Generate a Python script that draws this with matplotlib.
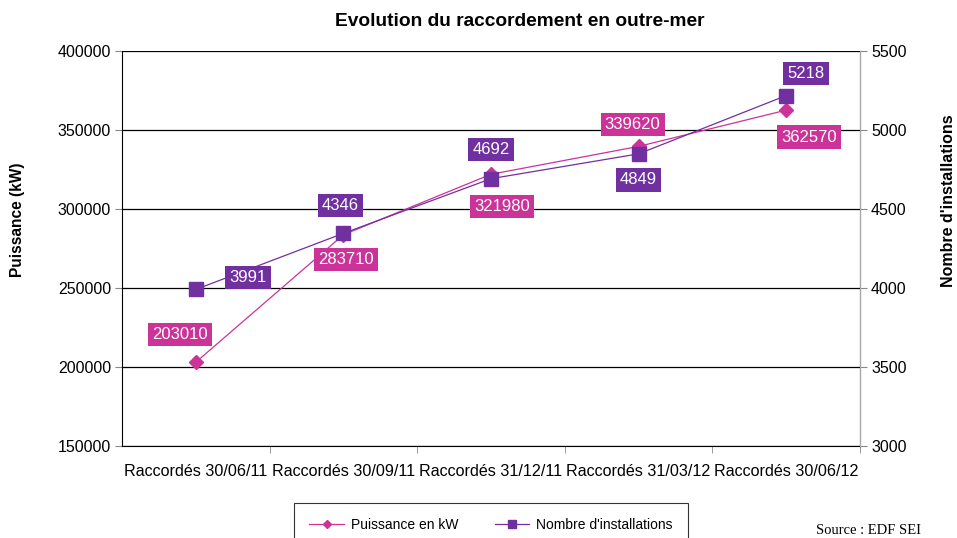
import matplotlib
matplotlib.use("Agg")
import matplotlib.pyplot as plt
from matplotlib.lines import Line2D
import numpy as np

categories = ["Raccordés 30/06/11", "Raccordés 30/09/11", "Raccordés 31/12/11",
              "Raccordés 31/03/12", "Raccordés 30/06/12"]
puissance = [203010, 283710, 321980, 339620, 362570]
installations = [3991, 4346, 4692, 4849, 5218]
left_ticks = [150000, 200000, 250000, 300000, 350000, 400000]
right_ticks = [3000, 3500, 4000, 4500, 5000, 5500]

# label offsets in pixels (dx, dy; dy upward)
pink_off = [(-16, 28), (3, -25), (11, -32), (-6, 22), (23, -27)]
purple_off = [(52, 12), (-3, 28), (0, 29), (0, -26), (20, 22)]

PINK = "#CC3399"
PURPLE = "#7030A0"

plt.rcParams['font.family'] = ['Liberation Sans', 'DejaVu Sans']

fig = plt.figure(figsize=(9.57, 5.38), dpi=100)
ax = fig.add_axes([122/957, 1 - 446/538, (860-122)/957, (446-51)/538])
ax2 = ax.twinx()

x = np.arange(len(categories))
ax.plot(x, puissance, color=PINK, lw=0.9, marker='D', ms=7.5, mec=PINK, mfc=PINK,
        label="Puissance en kW", zorder=3)
ax2.plot(x, installations, color=PURPLE, lw=0.9, marker='s', ms=10, mec=PURPLE, mfc=PURPLE,
         label="Nombre d'installations", zorder=3)

ax.set_xlim(-0.5, len(categories) - 0.5)
ax.set_ylim(left_ticks[0], left_ticks[-1])
ax2.set_ylim(right_ticks[0], right_ticks[-1])
ax.set_yticks(left_ticks)
ax.set_yticklabels([str(v) for v in left_ticks], fontsize=11.5)
ax2.set_yticks(right_ticks)
ax2.set_yticklabels([str(v) for v in right_ticks], fontsize=11.5)
ax.set_xticks(x)
ax.set_xticklabels(categories, fontsize=11.6)
ax.tick_params(axis='x', length=0, pad=13)
ax.set_xticks(np.arange(len(categories)) + 0.5, minor=True)
ax.tick_params(axis='x', which='minor', length=5, direction='out', color='#888888')
ax.tick_params(axis='y', length=5, direction='out', color='#888888', pad=3)
ax2.tick_params(axis='y', length=5, direction='out', color='#888888', pad=3)

ax.grid(axis='y', color='black', lw=0.9)
ax.set_axisbelow(True)
ax.spines['top'].set_visible(False)
ax2.spines['top'].set_visible(False)
ax.spines['left'].set_color('black')
ax.spines['bottom'].set_color('black')
ax2.spines['right'].set_color('#aaaaaa')
ax2.spines['left'].set_visible(False)
ax2.spines['bottom'].set_visible(False)

ax.set_ylabel("Puissance (kW)", fontsize=11.2, fontweight='bold')
ax.yaxis.set_label_coords(-0.131, 0.572)
ax2.set_ylabel("Nombre d'installations", fontsize=11.5, fontweight='bold', rotation=90)
ax2.yaxis.set_label_coords(1.110, 0.62)

fig.text(520/957, 1 - 22/538, "Evolution du raccordement en outre-mer",
         ha='center', va='center', fontsize=13.8, fontweight='bold')

for i, v in enumerate(puissance):
    ax.annotate(str(v), xy=(x[i], v), xytext=pink_off[i], textcoords='offset pixels',
                ha='center', va='center', fontsize=12, color='white', zorder=6,
                bbox=dict(boxstyle='square,pad=0.25', fc=PINK, ec='none'))
for i, v in enumerate(installations):
    ax2.annotate(str(v), xy=(x[i], v), xytext=purple_off[i], textcoords='offset pixels',
                 ha='center', va='center', fontsize=12, color='white', zorder=6,
                 bbox=dict(boxstyle='square,pad=0.25', fc=PURPLE, ec='none'))

h1, l1 = ax.get_legend_handles_labels()
h2, l2 = ax2.get_legend_handles_labels()
hh = [Line2D([], [], color=PINK, lw=0.9, marker='D', ms=4.5),
      Line2D([], [], color=PURPLE, lw=0.9, marker='s', ms=5.5)]
leg = fig.legend(hh, l1 + l2, loc='upper left', bbox_to_anchor=(294/957, 1 - 503/538),
                 ncol=2, frameon=True, fontsize=10, fancybox=False, edgecolor='black',
                 handlelength=2.5, columnspacing=2.6, borderpad=1.1, handletextpad=0.5,
                 borderaxespad=0)
leg.get_frame().set_linewidth(0.8)

fig.text(868/957, 1 - 531/538, "Source : EDF SEI", ha='center', va='center',
         fontsize=10.5, family=['Liberation Serif', 'DejaVu Serif'])

fig.savefig("out.png", dpi=100)
